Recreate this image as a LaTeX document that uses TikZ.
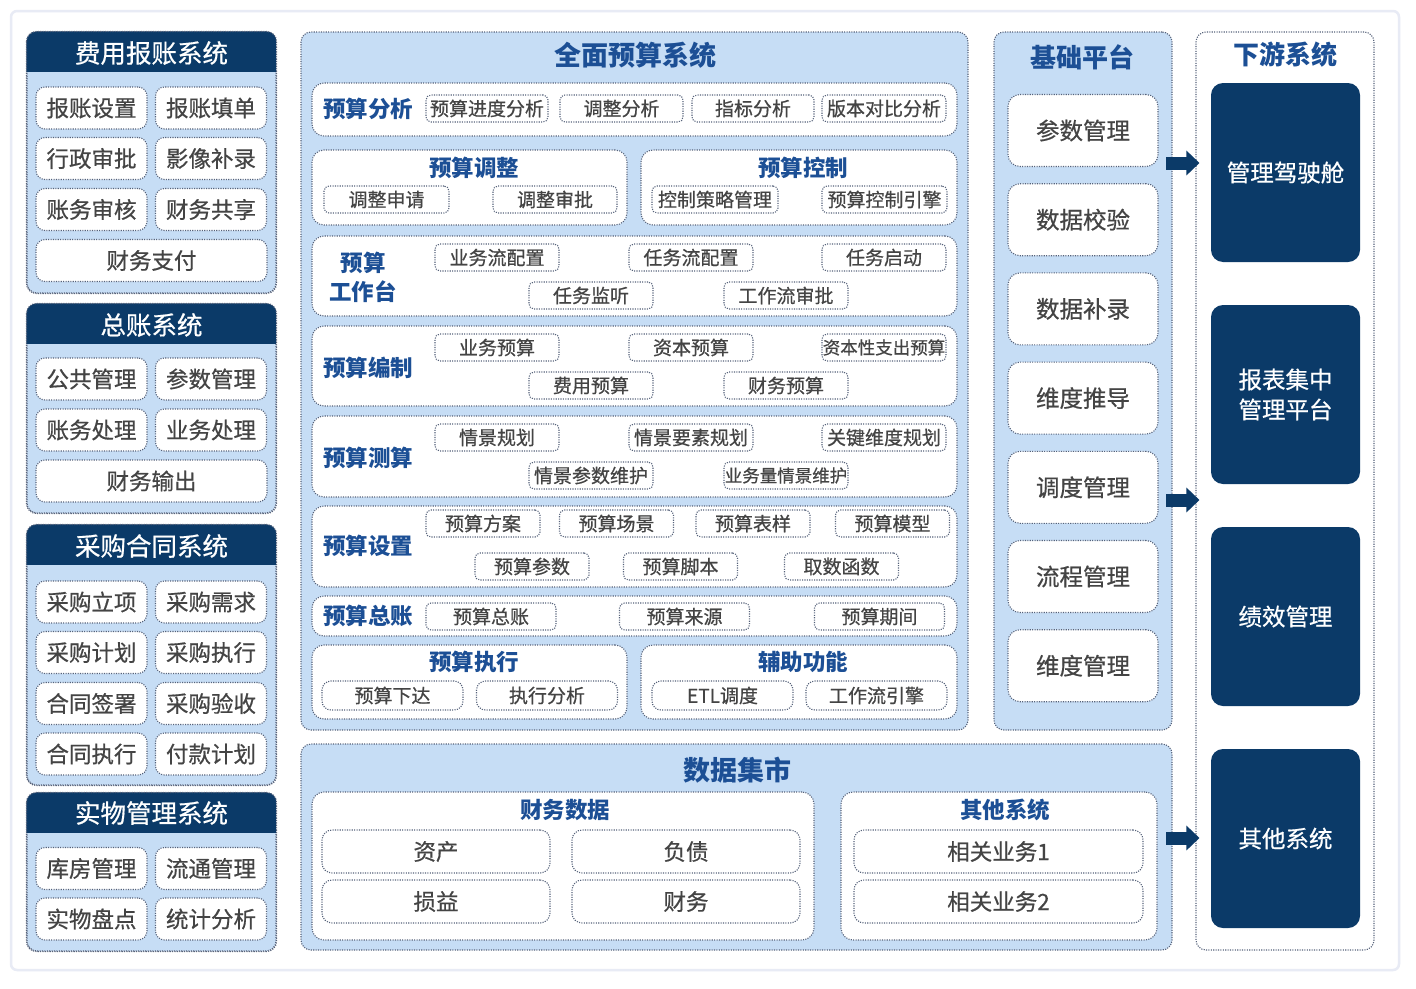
\documentclass[tikz,border=0pt]{standalone}
\usepackage{fontspec}
\setmainfont{Noto Sans CJK SC}
\newfontfamily\medfont[FakeBold=0.6]{Noto Sans CJK SC}
\usepackage{xcolor}
\usepackage{tikz}
\usetikzlibrary{arrows.meta,calc}

\definecolor{navy}{HTML}{0B3A68}
\definecolor{paleblue}{HTML}{C6DDF5}
\definecolor{ttlblue}{HTML}{1C4F95}
\definecolor{txtgray}{HTML}{444444}
\definecolor{dotgray}{HTML}{56627A}
\definecolor{cardline}{HTML}{E8EBF5}

\begin{document}
\begin{tikzpicture}[
  x=1pt, y=-1pt,
  dotline/.style={draw=dotgray, line width=1.1pt, dash pattern=on 1.1pt off 1.3pt},
  panel/.style={dotline, fill=paleblue, rounded corners=10, inner sep=0pt},
  hdrtxt/.style={text=white, font=\medfont\fontsize{25.5pt}{28pt}\selectfont},
  cell/.style={dotline, fill=white, rounded corners=9, minimum width=111, minimum height=42, inner sep=0pt,
    text=txtgray, font=\medfont\fontsize{22.5pt}{26pt}\selectfont},
  widecell/.style={cell, minimum width=231},
  rowbox/.style={dotline, fill=white, rounded corners=12, inner sep=0pt},
  rowlbl/.style={text=ttlblue, font=\bfseries\fontsize{22.5pt}{29pt}\selectfont, align=center},
  subttl/.style={text=ttlblue, font=\bfseries\fontsize{22.5pt}{26pt}\selectfont},
  bigttl/.style={text=ttlblue, font=\bfseries\fontsize{27pt}{30pt}\selectfont},
  tag/.style={dotline, fill=white, rounded corners=5, minimum height=27, minimum width=124, inner sep=0pt,
    text=txtgray, font=\medfont\fontsize{19pt}{21pt}\selectfont},
  fcell/.style={dotline, fill=white, rounded corners=12, minimum width=150, minimum height=72, inner sep=0pt,
    text=txtgray, font=\medfont\fontsize{23.5pt}{26pt}\selectfont},
  navybox/.style={fill=navy, rounded corners=12, minimum width=149, minimum height=179, inner sep=0pt,
    text=white, align=center, font=\medfont\fontsize{23.5pt}{30pt}\selectfont},
  dcell/.style={dotline, fill=white, rounded corners=10, minimum width=228, minimum height=43, inner sep=0pt,
    text=txtgray, font=\medfont\fontsize{22.5pt}{26pt}\selectfont},
  bigarrow/.style={navy, line width=13pt, -{Triangle[width=24pt,length=13pt]}}
]
\useasboundingbox (0,0) rectangle (1416,988);
\fill[white] (0,0) rectangle (1416,988);
\draw[cardline, line width=2.5pt, rounded corners=6] (11,11) rectangle (1399,970);

% left column
\node[panel, minimum width=249, minimum height=261] (fy) at (151.5,162.5) {};
\node[panel, minimum width=249, minimum height=209] (zz) at (151.5,408.5) {};
\node[panel, minimum width=249, minimum height=260] (cg) at (151.5,655) {};
\node[panel, minimum width=249, minimum height=158] (sw) at (151.5,872) {};
\foreach \p in {fy,zz,cg,sw}{
  \begin{scope}
    \clip[rounded corners=10] (\p.north west) rectangle (\p.south east);
    \fill[navy] (\p.north west) rectangle ([yshift=-41pt]\p.north east);
  \end{scope}
  \draw[dotline, rounded corners=10] (\p.north west) rectangle (\p.south east);
}
\node[hdrtxt] (fyt) at (151.5,53) {费用报账系统};
\node[cell] (fy1) at (91.5,108) {报账设置};
\node[cell] (fy2) at (211,108) {报账填单};
\node[cell] (fy3) at (91.5,158.5) {行政审批};
\node[cell] (fy4) at (211,158.5) {影像补录};
\node[cell] (fy5) at (91.5,209.5) {账务审核};
\node[cell] (fy6) at (211,209.5) {财务共享};
\node[widecell] (fy7) at (151.5,260.5) {财务支付};

\node[hdrtxt] (zzt) at (151.5,325) {总账系统};
\node[cell] (zz1) at (91.5,379) {公共管理};
\node[cell] (zz2) at (211,379) {参数管理};
\node[cell] (zz3) at (91.5,430) {账务处理};
\node[cell] (zz4) at (211,430) {业务处理};
\node[widecell] (zz5) at (151.5,481) {财务输出};

\node[hdrtxt] (cgt) at (151.5,546) {采购合同系统};
\node[cell] (cg1) at (91.5,602) {采购立项};
\node[cell] (cg2) at (211,602) {采购需求};
\node[cell] (cg3) at (91.5,652.5) {采购计划};
\node[cell] (cg4) at (211,652.5) {采购执行};
\node[cell] (cg5) at (91.5,703.5) {合同签署};
\node[cell] (cg6) at (211,703.5) {采购验收};
\node[cell] (cg7) at (91.5,754) {合同执行};
\node[cell] (cg8) at (211,754) {付款计划};

\node[hdrtxt] (swt) at (151.5,813) {实物管理系统};
\node[cell] (sw1) at (91.5,868.5) {库房管理};
\node[cell] (sw2) at (211,868.5) {流通管理};
\node[cell] (sw3) at (91.5,919) {实物盘点};
\node[cell] (sw4) at (211,919) {统计分析};

% budget system
\node[panel, minimum width=667, minimum height=698] (ys) at (634.5,381) {};
\node[bigttl] (yst) at (635,55) {全面预算系统};

\node[rowbox, minimum width=645, minimum height=53] (r1) at (634.5,109.5) {};
\node[rowlbl] (r1l) at (368,109) {预算分析};
\node[tag, minimum width=122] (r1a) at (487,108.5) {预算进度分析};
\node[tag, minimum width=123] (r1b) at (621.5,108.5) {调整分析};
\node[tag, minimum width=122] (r1c) at (753,108.5) {指标分析};
\node[tag] (r1d) at (884,108.5) {版本对比分析};

\node[rowbox, minimum width=315, minimum height=75] (r2a) at (469.5,187.5) {};
\node[subttl] (r2at) at (474,168) {预算调整};
\node[tag, minimum width=125] (r2a1) at (386.5,199.5) {调整申请};
\node[tag] (r2a2) at (555,199.5) {调整审批};
\node[rowbox, minimum width=316, minimum height=75] (r2b) at (799,187.5) {};
\node[subttl] (r2bt) at (803,168) {预算控制};
\node[tag, minimum width=126] (r2b1) at (715,199.5) {控制策略管理};
\node[tag, minimum width=125] (r2b2) at (884.5,199.5) {预算控制引擎};

\node[rowbox, minimum width=645, minimum height=80] (r3) at (634.5,276) {};
\node[rowlbl] (r3l) at (363,277) {预算\\工作台};
\node[tag] (r3a) at (497,257.5) {业务流配置};
\node[tag] (r3b) at (691,257.5) {任务流配置};
\node[tag] (r3c) at (884,257.5) {任务启动};
\node[tag] (r3d) at (591,295.5) {任务监听};
\node[tag] (r3e) at (786,295.5) {工作流审批};

\node[rowbox, minimum width=645, minimum height=80] (r4) at (634.5,366) {};
\node[rowlbl] (r4l) at (368,368) {预算编制};
\node[tag] (r4a) at (497,347.5) {业务预算};
\node[tag] (r4b) at (691,347.5) {资本预算};
\node[tag, font=\medfont\fontsize{17.5pt}{19pt}\selectfont] (r4c) at (884,347.5) {资本性支出预算};
\node[tag] (r4d) at (591,385.5) {费用预算};
\node[tag] (r4e) at (786,385.5) {财务预算};

\node[rowbox, minimum width=645, minimum height=81] (r5) at (634.5,456.5) {};
\node[rowlbl] (r5l) at (368,458) {预算测算};
\node[tag] (r5a) at (497,437.5) {情景规划};
\node[tag] (r5b) at (691,437.5) {情景要素规划};
\node[tag] (r5c) at (884,437.5) {关键维度规划};
\node[tag] (r5d) at (591,475.5) {情景参数维护};
\node[tag, font=\medfont\fontsize{17.5pt}{19pt}\selectfont] (r5e) at (786,475.5) {业务量情景维护};

\node[rowbox, minimum width=645, minimum height=81] (r6) at (634.5,546.5) {};
\node[rowlbl] (r6l) at (368,546) {预算设置};
\node[tag, minimum width=114] (r6a) at (483,523.5) {预算方案};
\node[tag, minimum width=114] (r6b) at (616.5,523.5) {预算场景};
\node[tag, minimum width=114] (r6c) at (753,523.5) {预算表样};
\node[tag, minimum width=114] (r6d) at (892.5,523.5) {预算模型};
\node[tag, minimum width=114] (r6e) at (532,566.5) {预算参数};
\node[tag, minimum width=114] (r6f) at (680.5,566.5) {预算脚本};
\node[tag, minimum width=114] (r6g) at (841.5,566.5) {取数函数};

\node[rowbox, minimum width=645, minimum height=40] (r7) at (634.5,616) {};
\node[rowlbl] (r7l) at (368,616) {预算总账};
\node[tag, minimum width=130] (r7a) at (491,616.5) {预算总账};
\node[tag, minimum width=130] (r7b) at (684.5,616.5) {预算来源};
\node[tag, minimum width=130] (r7c) at (879.5,616.5) {预算期间};

\node[rowbox, minimum width=315, minimum height=74] (r8a) at (469.5,682) {};
\node[subttl] (r8at) at (474,662) {预算执行};
\node[tag, minimum width=141, minimum height=29, rounded corners=9] (r8a1) at (392.5,695.5) {预算下达};
\node[tag, minimum width=141, minimum height=29, rounded corners=9] (r8a2) at (547,695.5) {执行分析};
\node[rowbox, minimum width=316, minimum height=74] (r8b) at (799,682) {};
\node[subttl] (r8bt) at (803,662) {辅助功能};
\node[tag, minimum width=141, minimum height=29, rounded corners=9] (r8b1) at (722.5,695.5) {ETL调度};
\node[tag, minimum width=141, minimum height=29, rounded corners=9] (r8b2) at (876.5,695.5) {工作流引擎};

% base platform
\node[panel, minimum width=178, minimum height=698] (jc) at (1083,381) {};
\node[bigttl, font=\bfseries\fontsize{26pt}{30pt}\selectfont] (jct) at (1082,57) {基础平台};
\node[fcell] (jc1) at (1083,130.5) {参数管理};
\node[fcell] (jc2) at (1083,219.7) {数据校验};
\node[fcell] (jc3) at (1083,308.9) {数据补录};
\node[fcell] (jc4) at (1083,398.1) {维度推导};
\node[fcell] (jc5) at (1083,487.3) {调度管理};
\node[fcell] (jc6) at (1083,576.5) {流程管理};
\node[fcell] (jc7) at (1083,665.7) {维度管理};

% downstream
\node[dotline, fill=white, rounded corners=10, minimum width=178, minimum height=918, inner sep=0pt] (xy) at (1285,491) {};
\node[bigttl, font=\bfseries\fontsize{26pt}{30pt}\selectfont] (xyt) at (1285,55) {下游系统};
\node[navybox] (xy1) at (1285.5,172.5) {管理驾驶舱};
\node[navybox] (xy2) at (1285.5,394.5) {报表集中\\管理平台};
\node[navybox] (xy3) at (1285.5,616.5) {绩效管理};
\node[navybox] (xy4) at (1285.5,838.5) {其他系统};

% data mart
\node[panel, minimum width=871, minimum height=206] (sj) at (736.5,847) {};
\node[bigttl] (sjt) at (737,770) {数据集市};
\node[rowbox, minimum width=502, minimum height=148] (cw) at (563,866) {};
\node[subttl] (cwt) at (565,810) {财务数据};
\node[dcell] (cw1) at (436,851.5) {资产};
\node[dcell] (cw2) at (686,851.5) {负债};
\node[dcell] (cw3) at (436,901.5) {损益};
\node[dcell] (cw4) at (686,901.5) {财务};
\node[rowbox, minimum width=316, minimum height=148] (qt) at (999,866) {};
\node[subttl] (qtt) at (1005,810) {其他系统};
\node[dcell, minimum width=289] (qt1) at (998.5,851.5) {相关业务1};
\node[dcell, minimum width=289] (qt2) at (998.5,901.5) {相关业务2};

% arrows
\coordinate (a1) at (1166,163);
\coordinate (a2) at (1166,500);
\coordinate (a3) at (1166,838);
\foreach \a in {a1,a2,a3}
  \draw[bigarrow, shorten >=-4pt] (\a) -- (\a -| xy.west);
\end{tikzpicture}
\end{document}
